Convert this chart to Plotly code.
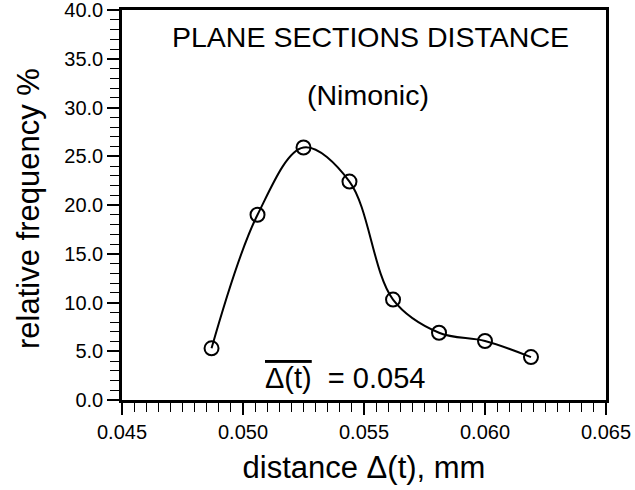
import plotly.graph_objects as go

# data
distance_mm = [0.0487, 0.0506, 0.0525, 0.0544, 0.0562, 0.0581, 0.0600, 0.0619]
rel_freq_pct = [5.3, 19.0, 25.9, 22.4, 10.3, 6.9, 6.05, 4.4]

x_ticks = [0.045, 0.050, 0.055, 0.060, 0.065]
y_ticks = [0, 5, 10, 15, 20, 25, 30, 35, 40]

FONT = "Arial, 'Liberation Sans', Helvetica, sans-serif"

fig = go.Figure()
fig.add_trace(go.Scatter(
    x=distance_mm, y=rel_freq_pct,
    mode="lines+markers",
    line=dict(color="black", width=2, shape="spline", smoothing=1.0),
    marker=dict(symbol="circle-open", size=14, color="black", line=dict(width=2, color="black")),
    showlegend=False,
))

axis_common = dict(
    showgrid=False, zeroline=False, automargin=False, ticklabeloverflow="allow",
    showline=True, linecolor="black", linewidth=2.5, mirror=True,
    ticks="outside", ticklen=12, tickwidth=1.5, tickcolor="black",
    tickfont=dict(family=FONT, size=20, color="black"),
)

fig.update_xaxes(
    range=[0.045, 0.065], tickvals=x_ticks, tickformat=".3f",
    minor=dict(dtick=0.0005, tick0=0.045, ticks="outside", ticklen=9, tickwidth=1, tickcolor="black"),
    title=dict(text="distance Δ(t), mm", font=dict(family=FONT, size=31, color="black")),
    **axis_common,
)
fig.update_yaxes(
    range=[0, 40], tickvals=y_ticks, tickformat=".1f",
    minor=dict(dtick=1, tick0=0, ticks="outside", ticklen=9, tickwidth=1, tickcolor="black"),
    **axis_common,
)

ann_common = dict(xref="paper", yref="paper", showarrow=False, xanchor="center", yanchor="middle")
# y-axis title
fig.add_annotation(x=-0.192, y=0.49, text="relative frequency %", textangle=-90,
                   font=dict(family=FONT, size=31, color="black"), **ann_common)
fig.add_annotation(x=0.514, y=0.931, text="PLANE SECTIONS DISTANCE",
                   font=dict(family=FONT, size=28.5, color="black"), **ann_common)
fig.add_annotation(x=0.508, y=0.782, text="(Nimonic)",
                   font=dict(family=FONT, size=28.5, color="black"), **ann_common)
fig.add_annotation(x=0.46, y=0.056,
                   text="<span style='text-decoration:overline'>Δ(t)</span>  = 0.054",
                   font=dict(family=FONT, size=29, color="black"), **ann_common)

fig.update_layout(
    width=635, height=490,
    margin=dict(l=122, r=29, t=10, b=90),
    paper_bgcolor="white", plot_bgcolor="white",
)

fig.write_html("out.html", config={"displayModeBar": False},
               post_script="document.body.style.margin='0';")
